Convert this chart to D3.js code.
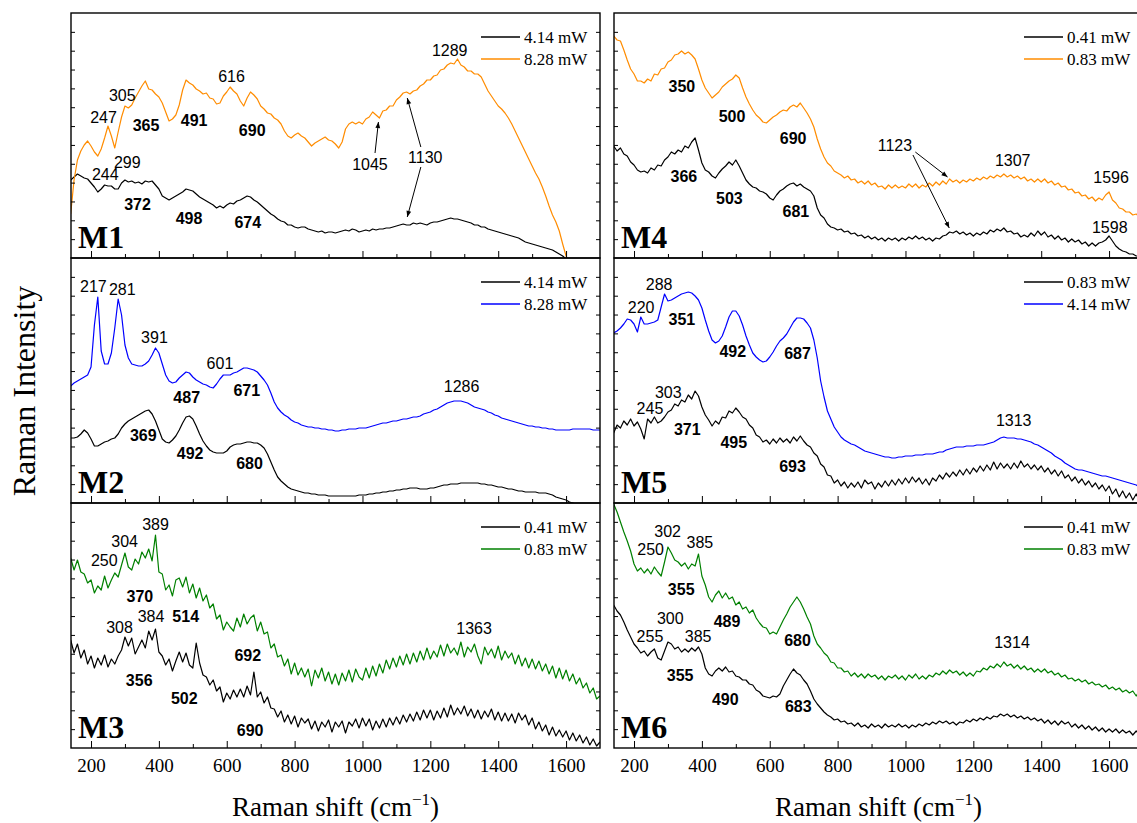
<!DOCTYPE html>
<html>
<head>
<meta charset="utf-8">
<script src="https://cdn.jsdelivr.net/npm/d3@7/dist/d3.min.js"></script>
<style>
  body { margin: 0; background: #fff; }
  svg { display: block; }
</style>
</head>
<body>
<div id="chart"></div>
<script>
// Raman shift grid (cm-1), shared by every spectrum
var shift = [140,150,160,170,180,190,200,210,220,230,
  240,250,260,270,280,290,300,310,320,330,
  340,350,360,370,380,390,400,410,420,430,
  440,450,460,470,480,490,500,510,520,530,
  540,550,560,570,580,590,600,610,620,630,
  640,650,660,670,680,690,700,710,720,730,
  740,750,760,770,780,790,800,810,820,830,
  840,850,860,870,880,890,900,910,920,930,
  940,950,960,970,980,990,1000,1010,1020,1030,
  1040,1050,1060,1070,1080,1090,1100,1110,1120,1130,
  1140,1150,1160,1170,1180,1190,1200,1210,1220,1230,
  1240,1250,1260,1270,1280,1290,1300,1310,1320,1330,
  1340,1350,1360,1370,1380,1390,1400,1410,1420,1430,
  1440,1450,1460,1470,1480,1490,1500,1510,1520,1530,
  1540,1550,1560,1570,1580,1590,1600,1610,1620,1630,
  1640,1650,1660,1670,1680,1690,1700];

// intensities (arbitrary units, each panel 0..245)
var m1Low = [78,81,84,82,80,79,75,71,66,69,
  73,72,72,69,69,75,78,76,77,75,
  76,74,77,76,77,73,69,62,60,58,
  60,62,64,66,69,68,67,64,61,59,
  57,55,53,50,52,50,53,55,54,57,
  58,60,62,61,58,56,53,50,47,44,
  42,39,37,36,33,33,31,30,31,31,
  29,28,27,26,27,25,26,26,25,26,
  27,28,27,29,28,26,27,28,27,29,
  28,29,29,30,30,31,32,33,34,33,
  33,35,34,35,34,33,35,36,36,37,
  38,39,40,39,39,38,37,36,35,33,
  33,31,31,29,28,27,26,25,24,23,
  22,21,20,18,16,15,14,13,12,11,
  10,9,8,6,4,2,-1,-5,null,null,
  null,null,null,null,null,null,null];
var m1High = [44,78,98,107,113,117,112,106,102,109,
  120,132,122,110,126,141,152,150,153,160,
  166,172,177,169,168,164,161,155,146,137,
  139,143,153,168,178,175,173,169,167,164,
  165,160,159,154,155,162,166,171,167,164,
  157,152,160,166,163,159,152,149,145,144,
  140,138,134,127,122,120,123,125,122,120,
  116,112,115,117,119,121,118,117,114,110,
  116,129,134,136,134,136,134,139,141,146,
  143,140,147,148,152,152,158,161,165,166,
  164,167,168,172,174,178,178,182,183,188,
  189,193,195,194,199,193,191,187,187,184,
  184,181,174,167,162,157,152,149,145,140,
  134,127,120,113,106,99,92,85,79,71,
  62,52,43,36,27,14,2,-6,null,null,
  null,null,null,null,null,null,null];

var m2Low = [65,65,66,69,73,70,64,57,57,59,
  61,62,64,65,69,75,79,82,84,86,
  88,90,92,93,89,82,73,64,61,60,
  63,67,73,80,86,87,84,77,69,62,
  57,53,51,50,50,50,52,56,58,59,
  59,60,61,61,60,60,58,55,49,41,
  33,26,22,19,16,14,13,12,11,10,
  10,9,9,8,8,8,7,7,7,7,
  7,7,7,7,7,8,8,8,9,9,
  10,10,11,11,12,12,13,13,14,14,
  15,15,15,14,14,14,15,15,16,17,
  18,18,19,19,19,20,20,20,20,20,
  20,19,19,18,18,17,16,16,15,14,
  14,13,12,12,11,11,11,11,10,10,
  10,9,8,6,5,4,3,1,0,-2,
  -4,null,null,null,null,null,null];
var m2High = [117,120,122,124,126,128,136,178,206,152,
  139,139,150,175,204,188,158,145,139,138,
  137,137,139,142,148,155,150,139,128,122,
  120,121,125,128,131,130,126,123,121,119,
  118,116,115,119,124,128,128,128,130,131,
  133,135,135,134,133,131,127,123,118,110,
  101,95,91,88,86,83,81,80,78,77,
  76,76,75,75,74,74,73,73,72,72,
  73,73,74,74,74,75,75,75,76,77,
  78,79,80,80,81,82,82,83,84,84,
  85,86,86,87,89,90,91,93,94,96,
  98,100,101,102,102,102,101,100,98,96,
  95,94,93,91,90,88,87,85,84,83,
  82,81,80,79,78,77,77,76,76,75,
  75,74,74,73,73,73,73,73,74,74,
  74,74,74,74,73,73,73];

var m3Low = [108,95,104,90,98,84,92,80,90,83,
  93,81,89,84,92,98,111,102,110,94,
  101,108,100,117,108,119,96,92,83,89,
  77,87,96,86,95,83,80,105,85,73,
  71,63,68,57,61,46,55,49,58,51,
  59,51,62,53,76,51,56,45,51,40,
  39,31,37,26,33,24,32,21,30,25,
  29,19,27,17,26,21,28,16,26,21,
  27,15,26,22,29,20,30,22,29,18,
  27,20,29,21,30,23,31,24,33,26,
  34,27,36,28,38,30,38,28,37,30,
  40,31,43,33,40,34,42,32,39,30,
  38,29,37,31,39,28,36,27,35,27,
  34,25,35,28,33,23,30,19,26,17,
  23,13,21,12,18,11,17,8,15,7,
  13,5,11,3,9,2,6];
var m3High = [190,178,188,176,174,165,168,155,162,158,
  172,160,168,175,171,183,195,181,178,189,
  184,196,190,199,187,213,176,174,158,163,
  152,168,170,161,171,155,164,150,160,147,
  153,140,144,129,133,118,126,121,117,130,
  121,134,124,130,133,117,126,114,116,100,
  104,91,93,82,89,74,85,73,80,71,
  79,62,78,70,80,67,76,64,74,63,
  75,67,78,66,79,71,68,80,70,82,
  72,84,75,88,79,90,81,92,83,94,
  84,95,86,97,88,100,89,97,91,103,
  92,104,95,100,93,106,91,101,96,104,
  92,84,101,93,99,90,102,88,97,90,
  95,84,93,82,90,80,89,79,87,77,
  84,74,82,70,80,69,78,67,74,64,
  70,60,65,55,60,49,52];

var m4Low = [112,107,110,104,102,96,93,88,86,87,
  85,90,88,93,92,98,101,106,104,108,
  106,112,110,116,120,108,95,88,86,82,
  80,85,89,92,96,93,98,92,85,78,
  74,71,70,67,66,64,60,58,63,67,
  69,72,74,75,72,74,71,69,67,62,
  50,43,40,34,31,30,28,29,26,27,
  24,25,22,23,20,22,19,21,18,20,
  17,20,18,20,17,20,18,21,19,22,
  19,21,18,20,17,20,19,22,23,26,
  25,27,24,26,23,25,22,25,23,26,
  24,28,26,29,27,30,26,27,24,25,
  21,23,21,25,22,27,23,26,21,23,
  19,22,18,20,16,19,16,18,14,16,
  12,15,12,15,16,18,22,17,12,9,
  7,6,4,4,2,2,1];
var m4High = [222,218,217,208,198,189,184,177,177,175,
  179,177,184,183,189,190,196,198,203,204,
  207,204,206,203,199,189,178,170,165,160,
  163,166,171,174,177,179,183,180,170,161,
  154,148,143,140,136,135,138,141,143,146,
  148,147,151,153,151,155,150,145,139,131,
  119,109,101,95,92,87,85,83,80,82,
  78,79,75,77,74,77,73,75,71,72,
  69,73,70,73,70,72,70,74,71,74,
  70,73,71,75,72,76,73,77,74,79,
  76,78,75,78,76,79,77,80,78,81,
  79,82,80,83,81,84,81,83,80,82,
  79,81,77,79,76,79,76,79,75,77,
  73,75,71,72,68,69,65,66,62,63,
  59,61,57,60,58,63,66,58,55,50,
  49,46,46,43,44,41,42];

var m5Low = [70,78,75,82,78,84,77,81,74,64,
  84,80,86,80,82,86,91,93,99,97,
  103,101,108,104,112,107,96,88,83,77,
  82,79,86,85,92,90,95,91,86,84,
  78,75,68,66,61,63,59,64,60,65,
  61,64,60,66,62,67,62,58,56,50,
  47,39,36,28,27,20,23,17,21,15,
  20,16,21,15,23,19,21,14,20,16,
  22,17,23,18,24,19,25,20,26,21,
  25,19,24,18,25,22,28,24,30,26,
  31,27,33,28,34,29,35,31,37,32,
  38,33,41,34,40,35,39,34,40,35,
  42,36,39,34,38,33,37,31,35,29,
  33,27,32,25,28,22,26,20,24,18,
  22,16,20,14,18,12,17,9,14,6,
  12,5,10,3,9,2,6];
var m5High = [170,172,175,179,184,183,179,171,186,179,
  179,180,181,183,196,209,202,203,205,207,
  209,210,211,210,207,203,195,183,172,163,
  160,162,167,176,186,192,192,187,178,167,
  158,150,146,143,141,142,146,151,157,162,
  165,169,175,181,185,185,184,180,175,163,
  145,122,106,92,84,76,71,66,63,61,
  59,58,56,54,52,51,50,49,48,47,
  46,46,45,45,46,46,47,47,47,48,
  48,48,49,49,49,50,51,51,53,54,
  55,56,56,56,57,57,57,58,58,58,
  59,60,61,63,65,66,65,65,65,64,
  64,63,62,61,59,58,56,54,52,50,
  47,45,43,40,38,36,34,33,33,32,
  31,30,29,28,27,27,26,25,24,23,
  22,21,20,19,18,16,15];

var m6Low = [143,137,133,126,118,111,104,100,95,97,
  92,96,99,90,88,97,106,104,99,101,
  96,99,96,100,97,101,94,80,74,72,
  77,80,77,81,76,77,72,71,68,68,
  64,63,58,56,52,51,50,52,51,54,
  62,68,74,79,75,73,68,64,57,49,
  44,40,36,33,31,28,29,26,27,24,
  25,22,25,21,23,20,24,21,23,20,
  24,21,23,21,24,21,23,20,23,21,
  24,22,25,23,26,24,27,25,27,24,
  26,23,26,25,28,26,29,27,30,28,
  31,29,32,31,34,32,34,31,33,30,
  32,29,31,28,30,27,29,25,28,24,
  27,23,27,24,26,21,24,20,23,19,
  22,18,21,17,20,16,19,16,19,15,
  18,15,17,13,17,13,16];
var m6High = [244,236,226,216,207,197,184,177,180,175,
  179,174,181,176,172,186,201,195,188,186,
  182,185,179,184,182,194,172,163,151,146,
  153,157,150,155,149,151,143,146,139,141,
  135,138,130,125,121,120,114,116,114,121,
  128,134,141,146,151,146,139,131,124,112,
  104,100,95,92,86,85,80,80,76,77,
  72,75,71,74,70,74,71,73,69,72,
  68,72,70,73,69,72,68,73,70,74,
  69,72,69,73,71,75,73,77,74,78,
  75,77,73,76,72,75,72,77,76,80,
  78,82,80,84,81,86,82,84,80,83,
  79,82,78,80,76,79,76,79,75,77,
  73,75,71,73,69,70,67,69,66,68,
  64,66,63,64,61,63,59,61,58,60,
  56,58,55,57,52,58,54];

// peak labels: [text, shift, intensity, bold]
var notesM1 = [["305",292,163,0],["247",237,141,0],["365",362,133,1],["491",504,138,1],
  ["616",614,182,0],["690",675,128,1],["1289",1257,208,0],["1045",1022,94,0],["1130",1185,101,0],
  ["299",307,96,0],["244",242,84,0],["372",337,54,1],["498",489,40,1],["674",662,36,1]];
var notesM2 = [["217",207,217,0],["281",292,214,0],["391",387,166,0],["601",580,140,0],
  ["487",482,106,1],["671",659,113,1],["1286",1292,117,0],
  ["369",354,68,1],["492",492,50,1],["680",667,40,1]];
var notesM3 = [["389",390,224,0],["304",299,207,0],["250",239,188,0],["370",344,152,1],
  ["514",479,132,1],["308",284,121,0],["384",377,132,0],["356",342,68,1],["502",475,50,1],
  ["692",662,93,1],["690",669,18,1],["1363",1329,120,0]];
var notesM4 = [["350",341,172,1],["500",489,142,1],["690",669,120,1],["366",347,82,1],
  ["503",481,60,1],["681",677,47,1],["1123",969,113,0],["1307",1316,98,0],
  ["1596",1606,81,0],["1598",1602,31,0]];
var notesM5 = [["288",274,219,0],["220",221,196,0],["351",341,184,1],["492",491,152,1],
  ["687",682,150,1],["303",301,111,0],["245",247,95,0],["371",357,74,1],["495",494,61,1],
  ["693",667,37,1],["1313",1319,83,0]];
var notesM6 = [["302",299,217,0],["250",249,199,0],["385",394,206,0],["355",339,159,1],
  ["489",474,127,1],["680",682,108,1],["300",307,130,0],["255",247,112,0],["385",389,112,0],
  ["355",336,73,1],["490",469,49,1],["683",684,42,1],["1314",1314,106,0]];

// arrows: [fromShift, fromI, toShift, toI]
var arrowsM1 = [[1037,105,1047,136],[1172,111,1132,160],[1172,91,1132,41]];
var arrowsM4 = [[1029,106,1124,81],[1022,103,1129,30]];

var orange = "#ff8c00", blue = "#0000ff", green = "#008000";

var panels = [
  {name:"M1", col:0, row:0, lines:[[m1Low,"#000","4.14 mW"],[m1High,orange,"8.28 mW"]], notes:notesM1, arrows:arrowsM1},
  {name:"M2", col:0, row:1, lines:[[m2Low,"#000","4.14 mW"],[m2High,blue,"8.28 mW"]], notes:notesM2, arrows:[]},
  {name:"M3", col:0, row:2, lines:[[m3Low,"#000","0.41 mW"],[m3High,green,"0.83 mW"]], notes:notesM3, arrows:[]},
  {name:"M4", col:1, row:0, lines:[[m4Low,"#000","0.41 mW"],[m4High,orange,"0.83 mW"]], notes:notesM4, arrows:arrowsM4},
  {name:"M5", col:1, row:1, lines:[[m5Low,"#000","0.83 mW"],[m5High,blue,"4.14 mW"]], notes:notesM5, arrows:[]},
  {name:"M6", col:1, row:2, lines:[[m6Low,"#000","0.41 mW"],[m6High,green,"0.83 mW"]], notes:notesM6, arrows:[]}
];

var majorTicks = [200,400,600,800,1000,1200,1400,1600];
var minorTicks = [300,500,700,900,1100,1300,1500];

var width = 1137, height = 823;
var colLeft = [71, 614], panelW = 529;
var rowTop = [13, 258, 503], panelH = 245;
var serif = "'Liberation Serif','Times New Roman',serif";
var sans = "'Liberation Sans',Arial,sans-serif";

var svg = d3.select("#chart").append("svg")
  .attr("width", width)
  .attr("height", height);

svg.append("defs").append("marker")
  .attr("id", "arr")
  .attr("viewBox", "0 0 10 10")
  .attr("refX", 10).attr("refY", 5)
  .attr("markerWidth", 7).attr("markerHeight", 6)
  .attr("markerUnits", "userSpaceOnUse")
  .attr("orient", "auto")
  .append("path").attr("d", "M0,1 L10,5 L0,9 z").attr("fill", "#000");

var x = d3.scaleLinear().domain([141, 1700]).range([0, panelW]);
var y = d3.scaleLinear().domain([0, 245]).range([panelH, 0]);
var yTicks = d3.range(1, 13).map(function(k) { return k * 245 / 13; });

panels.forEach(function(p, i) {
  var g = svg.append("g")
    .attr("transform", "translate(" + colLeft[p.col] + "," + rowTop[p.row] + ")");

  g.append("clipPath").attr("id", "clip" + i)
    .append("rect").attr("width", panelW).attr("height", panelH);

  var plot = g.append("g").attr("clip-path", "url(#clip" + i + ")");

  var line = d3.line()
    .defined(function(d) { return d[1] != null; })
    .x(function(d) { return x(d[0]); })
    .y(function(d) { return y(d[1]); });

  p.lines.forEach(function(s) {
    plot.append("path")
      .datum(d3.zip(shift, s[0]))
      .attr("fill", "none")
      .attr("stroke", s[1])
      .attr("stroke-width", 1.2)
      .attr("stroke-linejoin", "round")
      .attr("d", line);
  });

  // bottom ticks (inward), labels only on last row
  var isBottom = p.row == 2;
  var ax = g.append("g").attr("transform", "translate(0," + panelH + ")")
    .call(d3.axisBottom(x).tickValues(majorTicks).tickSize(-7).tickPadding(11)
      .tickFormat(isBottom ? d3.format("d") : function() { return ""; }));
  ax.selectAll("text").attr("font-family", serif).attr("font-size", 19).attr("fill", "#000");
  g.append("g").attr("transform", "translate(0," + panelH + ")")
    .call(d3.axisBottom(x).tickValues(minorTicks).tickSize(-4).tickFormat(""));

  // side ticks
  g.append("g").call(d3.axisLeft(y).tickValues(yTicks).tickSize(-4).tickFormat(""));
  g.append("g").attr("transform", "translate(" + panelW + ",0)")
    .call(d3.axisRight(y).tickValues(yTicks).tickSize(-4).tickFormat(""));
  g.selectAll(".domain").remove();
  g.selectAll(".tick line").attr("stroke", "#000").attr("stroke-width", 1);

  g.append("rect")
    .attr("width", panelW).attr("height", panelH)
    .attr("fill", "none").attr("stroke", "#000").attr("stroke-width", 1.4);

  // peak labels
  g.selectAll("text.note").data(p.notes).enter().append("text")
    .attr("class", "note")
    .attr("x", function(d) { return x(d[1]); })
    .attr("y", function(d) { return y(d[2]); })
    .attr("dy", "0.36em")
    .attr("text-anchor", "middle")
    .attr("font-family", sans)
    .attr("font-size", 16)
    .attr("font-weight", function(d) { return d[3] ? "bold" : "normal"; })
    .text(function(d) { return d[0]; });

  g.selectAll("line.arrow").data(p.arrows).enter().append("line")
    .attr("class", "arrow")
    .attr("x1", function(d) { return x(d[0]); })
    .attr("y1", function(d) { return y(d[1]); })
    .attr("x2", function(d) { return x(d[2]); })
    .attr("y2", function(d) { return y(d[3]); })
    .attr("stroke", "#000").attr("stroke-width", 1)
    .attr("marker-end", "url(#arr)");

  // legend
  var lg = g.append("g").attr("transform", "translate(" + (panelW - 119) + ",24)");
  p.lines.forEach(function(s, j) {
    lg.append("line")
      .attr("x1", 0).attr("x2", 39)
      .attr("y1", j * 22).attr("y2", j * 22)
      .attr("stroke", s[1]).attr("stroke-width", 1.5);
    lg.append("text")
      .attr("x", 43).attr("y", j * 22).attr("dy", "0.33em")
      .attr("font-family", serif).attr("font-size", 17)
      .text(s[2]);
  });

  g.append("text")
    .attr("x", 7).attr("y", panelH - 10)
    .attr("font-family", serif).attr("font-size", 32).attr("font-weight", "bold")
    .text(p.name);
});

// axis titles
[0, 1].forEach(function(c) {
  var t = svg.append("text")
    .attr("x", colLeft[c] + panelW / 2)
    .attr("y", 816)
    .attr("text-anchor", "middle")
    .attr("font-family", serif)
    .attr("font-size", 27);
  t.append("tspan").text("Raman shift (cm");
  t.append("tspan").attr("dy", -11).attr("font-size", 17).text("\u22121");
  t.append("tspan").attr("dy", 11).text(")");
});

svg.append("text")
  .attr("transform", "translate(35,391) rotate(-90)")
  .attr("text-anchor", "middle")
  .attr("font-family", serif)
  .attr("font-size", 32)
  .text("Raman Intensity");
</script>
</body>
</html>
